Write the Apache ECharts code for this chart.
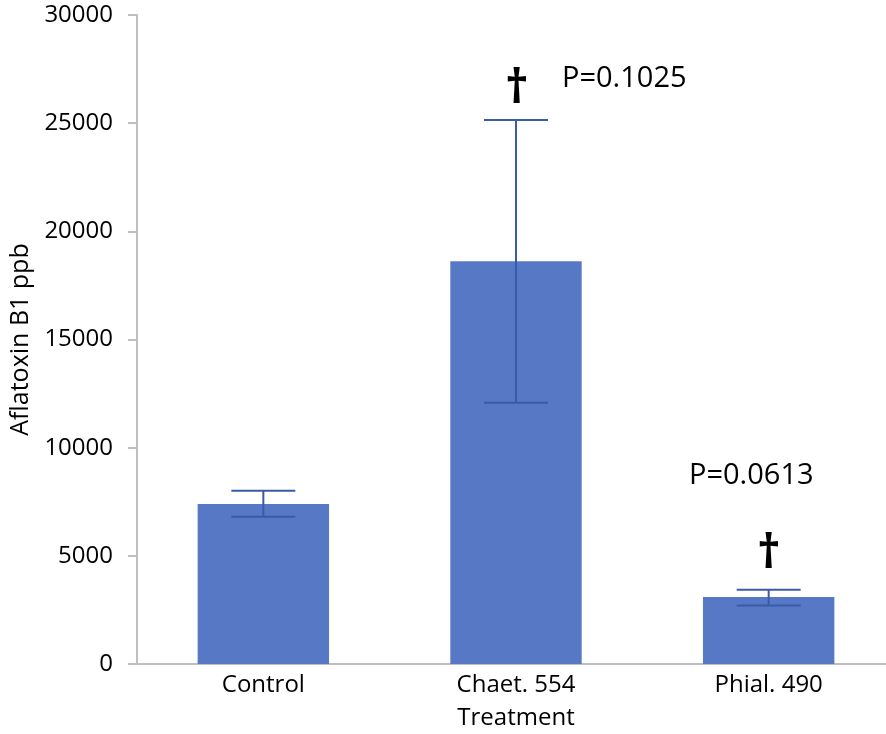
<!DOCTYPE html>
<html><head><meta charset="utf-8">
<script src="https://cdn.jsdelivr.net/npm/echarts@6/dist/echarts.min.js"></script>
<style>html,body{margin:0;padding:0;background:#fff}#c{width:886px;height:734px}</style>
</head><body><div id="c"></div>
<script>
const categories = ['Control', 'Chaet. 554', 'Phial. 490'];
const means = [7400, 18620, 3100];
const errUpper = [8010, 25150, 3430];
const errLower = [6810, 12080, 2700];
const yTicks = [0, 5000, 10000, 15000, 20000, 25000, 30000];

const FONT = '"Open Sans", sans-serif';
const chart = echarts.init(document.getElementById('c'));
chart.setOption({
  animation: false,
  grid: { left: 137, top: 15, width: 758, height: 649, containLabel: false, outerBoundsMode: 'none' },
  xAxis: {
    type: 'category', data: categories,
    axisLine: { lineStyle: { color: '#bfbfbf', width: 2 } },
    axisTick: { show: false },
    axisLabel: { color: '#000', fontSize: 24, fontFamily: FONT, margin: 9 },
    name: 'Treatment', nameLocation: 'middle', nameGap: 42,
    nameTextStyle: { color: '#000', fontSize: 24, fontFamily: FONT }
  },
  yAxis: {
    type: 'value', min: yTicks[0], max: yTicks[yTicks.length - 1], interval: 5000,
    axisLine: { show: true, lineStyle: { color: '#bfbfbf', width: 2 } },
    axisTick: { show: true, length: 9, lineStyle: { color: '#bfbfbf', width: 2 } },
    splitLine: { show: false },
    axisLabel: { color: '#000', fontSize: 24, fontFamily: FONT, margin: 24, formatter: v => String(v) },
    name: 'Aflatoxin B1 ppb', nameLocation: 'middle', nameGap: 99, nameRotate: 90,
    nameTextStyle: { color: '#000', fontSize: 25, fontFamily: FONT }
  },
  series: [
    {
      type: 'bar', data: means, barWidth: '52%',
      itemStyle: { color: '#5778c4' }
    },
    {
      type: 'custom',
      data: categories.map((c, i) => [i, errLower[i], errUpper[i]]),
      renderItem: function (params, api) {
        const x = api.coord([api.value(0), 0])[0];
        const lo = api.coord([api.value(0), api.value(1)])[1];
        const hi = api.coord([api.value(0), api.value(2)])[1];
        const hw = 32;
        const st = { stroke: '#3b5ba6', lineWidth: 2 };
        return {
          type: 'group', children: [
            { type: 'line', shape: { x1: x, y1: lo, x2: x, y2: hi }, style: st },
            { type: 'line', shape: { x1: x - hw, y1: hi, x2: x + hw, y2: hi }, style: st },
            { type: 'line', shape: { x1: x - hw, y1: lo, x2: x + hw, y2: lo }, style: st }
          ]
        };
      },
      z: 5
    }
  ],
  graphic: [
    { type: 'text', left: 505, top: 67, style: { text: '†', fontSize: 46, fontWeight: 'bold', fontFamily: FONT, fill: '#000' } },
    { type: 'text', left: 562, top: 64, style: { text: 'P=0.1025', fontSize: 29, fontFamily: FONT, fill: '#000' } },
    { type: 'text', left: 757, top: 532, style: { text: '†', fontSize: 46, fontWeight: 'bold', fontFamily: FONT, fill: '#000' } },
    { type: 'text', left: 689, top: 461, style: { text: 'P=0.0613', fontSize: 29, fontFamily: FONT, fill: '#000' } }
  ]
});
</script></body></html>
